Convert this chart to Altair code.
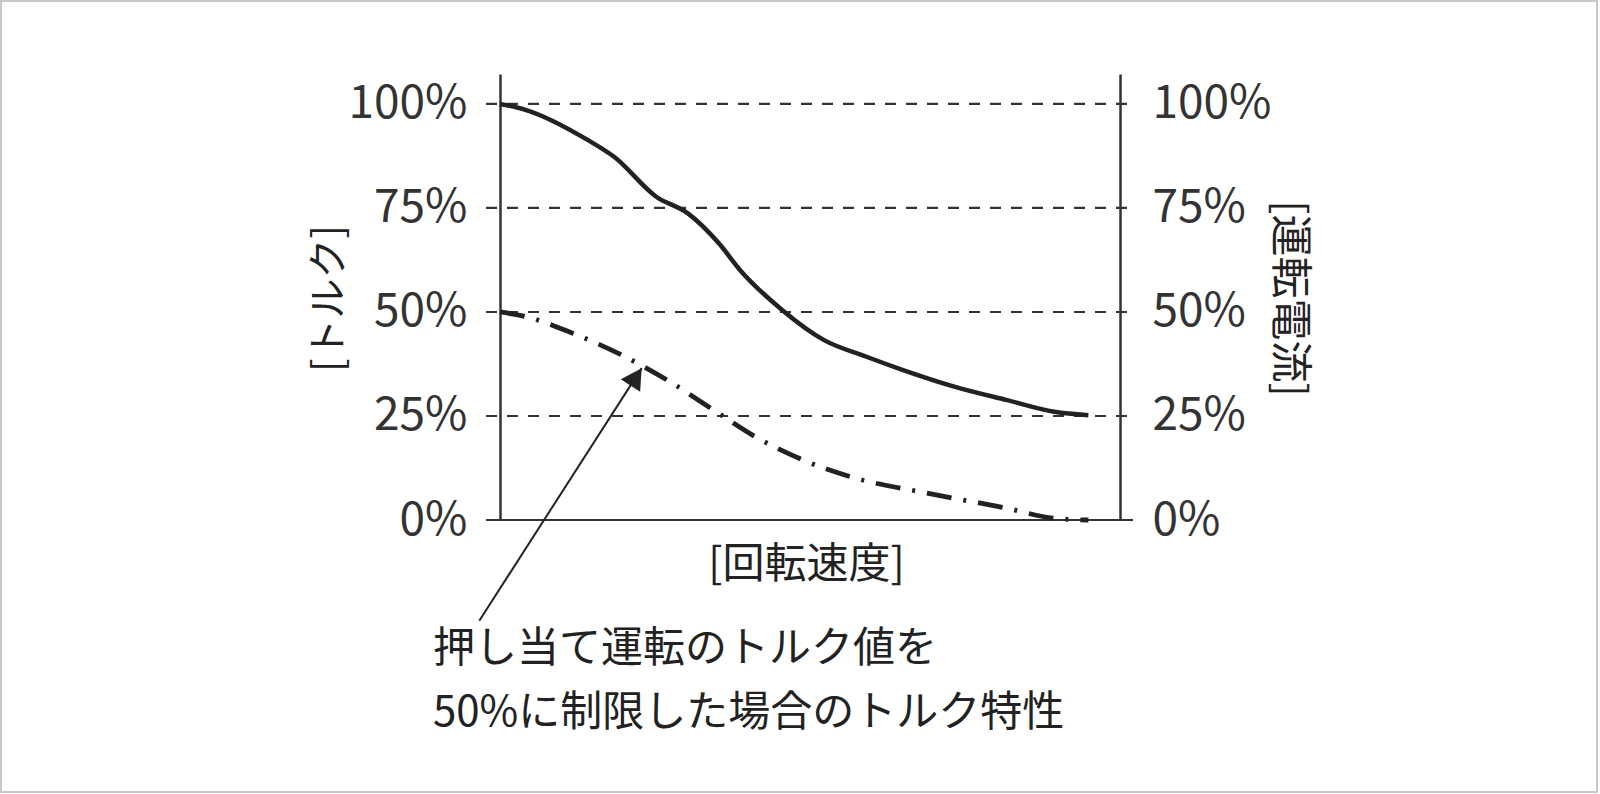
import altair as alt
import pandas as pd

FONT = "Noto Sans CJK JP"
INK = "#222222"

# ---- data (percent of rated values) ----
speed = [0, 4.1, 14.2, 18.4, 25.2, 30.3, 35.3, 38.7, 45.5, 52.2, 59.0, 64.9, 73.4, 81.8, 89.4, 94.9]
torque = [100, 98.6, 91.3, 87.3, 77.7, 73.7, 66.5, 60.1, 50.5, 43.3, 39.3, 36.1, 32.0, 28.8, 26.0, 25.2]

limited_speed = [0, 4.1, 11.7, 20.1, 26.9, 35.3, 41.2, 48.9, 56.5, 69.1, 81.8, 89.4, 94.9]
limited_torque = [50, 48.9, 44.9, 39.3, 33.7, 25.6, 20.0, 14.4, 10.4, 6.4, 2.8, 0.4, 0]

tick_values = [0, 25, 50, 75, 100]

arrow_x = [-3.34, 22.85]
arrow_y = [-24.2, 36.5]

note_lines = ["押し当て運転のトルク値を", "50%に制限した場合のトルク特性"]

x_title = "[回転速度]"
y_left_title = "[トルク]"
y_right_title = "[運転電流]"

# ---- tables ----
df_t = pd.DataFrame({"speed": speed, "value": torque})
df_l = pd.DataFrame({"speed": limited_speed, "value": limited_torque})
df_g = pd.DataFrame({"level": tick_values})
df_a = pd.DataFrame({"speed": arrow_x, "value": arrow_y, "order": [0, 1]})
df_h = pd.DataFrame({"speed": [arrow_x[1]], "value": [arrow_y[1]]})
df_n = pd.DataFrame({"text": ["\n".join(note_lines)]})
df_b = pd.DataFrame({"k": [0]})

W, H = 620, 446
y_scale = alt.Scale(domain=[0, 107.2], nice=False, zero=False)
x_scale = alt.Scale(domain=[0, 100], nice=False, zero=False)

x_axis = alt.Axis(
    title=x_title, domain=False, ticks=False, labels=False, grid=False,
    titleFont=FONT, titleFontSize=42, titleFontWeight="normal", titleColor=INK,
    titleX=306, titleY=44, titleAlign="center", titleBaseline="middle",
)

def xenc():
    return alt.X("speed:Q", scale=x_scale, axis=x_axis)

label_common = dict(
    values=tick_values, labelExpr="datum.value + '%'", ticks=False, grid=False,
    domain=True, domainColor="#333333", domainWidth=2.5,
    labelFont=FONT, labelFontSize=46, labelColor="#333333",
    titleFont=FONT, titleFontWeight="normal", titleColor=INK,
    titleAlign="center", titleBaseline="middle",
)

left_axis = alt.Axis(orient="left", labelPadding=33, title=y_left_title, titleFontSize=40,
                     titleAngle=270, titleX=-171, titleY=224, **label_common)
right_axis = alt.Axis(orient="right", labelPadding=32, title=y_right_title, titleFontSize=42,
                      titleAngle=90, titleX=168, titleY=224, **label_common)

grid = alt.Chart(df_g).mark_rule(strokeWidth=2.2, color="#333333").encode(
    y=alt.Y("level:Q", scale=y_scale, axis=None),
    x=alt.value(-14), x2=alt.value(W + 13),
    strokeDash=alt.condition("datum.level == 0", alt.value([1, 0]), alt.value([11, 10])),
)

torque_line = alt.Chart(df_t).mark_line(color=INK, strokeWidth=4.5, interpolate="monotone").encode(
    x=xenc(), y=alt.Y("value:Q", scale=y_scale, axis=left_axis),
)

limited_line = alt.Chart(df_l).mark_line(
    color=INK, strokeWidth=4.8, interpolate="monotone", strokeDash=[25, 12, 3, 12]
).encode(
    x=xenc(), y=alt.Y("value:Q", scale=y_scale, axis=right_axis),
)

arrow_line = alt.Chart(df_a).mark_line(color=INK, strokeWidth=2, clip=False).encode(
    x=xenc(), y=alt.Y("value:Q", scale=y_scale, axis=None), order="order:Q",
)

arrow_head = alt.Chart(df_h).mark_point(
    shape="M0,0L1,1.8L-1,1.8Z", filled=True, size=529, angle=32.8, color=INK, opacity=1,
).encode(
    x=xenc(), y=alt.Y("value:Q", scale=y_scale, axis=None),
)

note = alt.Chart(df_n).mark_text(
    align="left", baseline="middle", font=FONT, fontSize=42, lineHeight=64,
    lineBreak="\n", color=INK,
).encode(text="text:N", x=alt.value(-67), y=alt.value(575))

border = alt.Chart(df_b).mark_rect(filled=False, stroke="#c8c8c8", strokeWidth=2).encode(
    x=alt.value(-499), x2=alt.value(1097), y=alt.value(-73), y2=alt.value(718),
)

chart = alt.layer(
    border, grid, torque_line, limited_line, arrow_line, arrow_head, note
).resolve_scale(y="independent").resolve_axis(y="independent").properties(
    width=W, height=H,
    autosize=alt.AutoSizeParams(type="none"),
    padding={"left": 500, "top": 74, "right": 480, "bottom": 274},
    background="white",
).configure_view(stroke=None)

chart.save("out.html", embed_options={"renderer": "svg", "actions": False})
